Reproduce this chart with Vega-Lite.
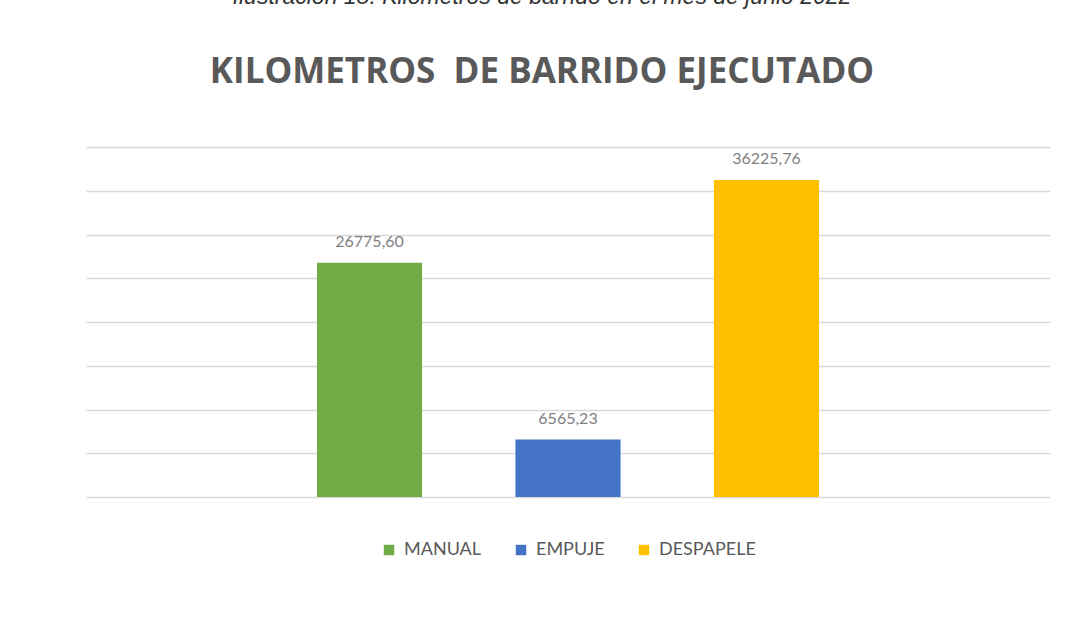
{
  "$schema": "https://vega.github.io/schema/vega-lite/v6.json",
  "width": 964,
  "height": 350,
  "autosize": {"type": "none"},
  "padding": {"left": 86, "top": 147, "right": 39, "bottom": 130},
  "background": "#ffffff",
  "title": {
    "text": "Ilustración 18. Kilómetros de barrido en el mes de junio 2022",
    "subtitle": "KILOMETROS\u00a0 DE BARRIDO EJECUTADO",
    "anchor": "middle",
    "frame": "group",
    "dx": -26,
    "offset": 57,
    "font": "Liberation Sans",
    "fontSize": 23,
    "fontStyle": "italic",
    "fontWeight": "normal",
    "color": "#333333",
    "subtitleFont": "Open Sans",
    "subtitleFontSize": 35,
    "subtitleFontWeight": "bold",
    "subtitleColor": "#595959",
    "subtitlePadding": 46
  },
  "data": {
    "values": [
      {"tipo": "MANUAL", "km": 26775.60},
      {"tipo": "EMPUJE", "km": 6565.23},
      {"tipo": "DESPAPELE", "km": 36225.76}
    ]
  },
  "encoding": {
    "x": {
      "field": "tipo",
      "type": "nominal",
      "sort": ["MANUAL", "EMPUJE", "DESPAPELE"],
      "scale": {"paddingInner": 0.143, "paddingOuter": 1},
      "axis": null
    },
    "y": {
      "field": "km",
      "type": "quantitative",
      "scale": {"domain": [0, 40000], "nice": false},
      "axis": {
        "title": null,
        "labels": false,
        "ticks": false,
        "domain": false,
        "grid": true,
        "values": [0, 5000, 10000, 15000, 20000, 25000, 30000, 35000, 40000],
        "gridColor": "#d9d9d9",
        "gridWidth": 1.5
      }
    }
  },
  "layer": [
    {
      "mark": {"type": "bar", "width": {"band": 0.618}},
      "encoding": {
        "color": {
          "field": "tipo",
          "type": "nominal",
          "sort": ["MANUAL", "EMPUJE", "DESPAPELE"],
          "scale": {"domain": ["MANUAL", "EMPUJE", "DESPAPELE"], "range": ["#70AD47", "#4472C4", "#FFC000"]},
          "legend": {
            "title": null,
            "orient": "bottom",
            "direction": "horizontal",
            "offset": 44,
            "symbolType": "square",
            "symbolSize": 110,
            "symbolStrokeWidth": 0,
            "labelFont": "Lato",
            "labelFontSize": 18,
            "labelColor": "#595959",
            "labelOffset": 6,
            "columnPadding": 30
          }
        }
      }
    },
    {
      "mark": {"type": "text", "dy": -21, "font": "Lato", "fontSize": 16, "color": "#7f7f7f"},
      "encoding": {
        "text": {"field": "km", "type": "quantitative", "format": ".2f"}
      }
    }
  ],
  "config": {
    "view": {"stroke": null},
    "locale": {
      "number": {"decimal": ",", "thousands": ".", "grouping": [3], "currency": ["", ""]}
    },
    "legend": {"layout": {"bottom": {"anchor": "middle"}}}
  }
}
